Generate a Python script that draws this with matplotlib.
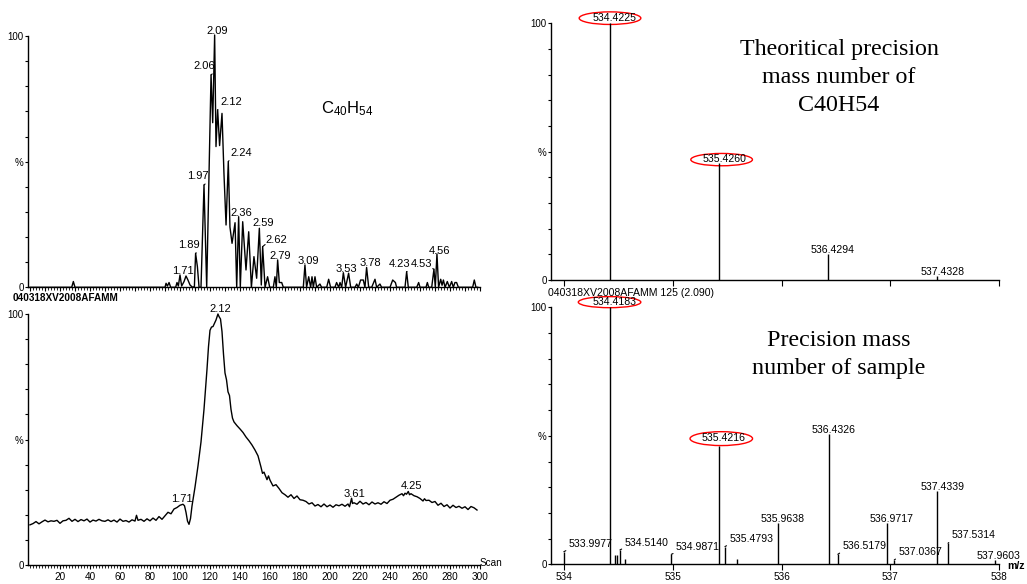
import matplotlib
matplotlib.use("Agg")
import matplotlib.pyplot as plt
from matplotlib.patches import Ellipse

plt.rcParams['font.family'] = ['Liberation Sans', 'DejaVu Sans']
plt.rcParams['mathtext.fontset'] = 'custom'
plt.rcParams['mathtext.rm'] = 'Liberation Sans'
plt.rcParams['mathtext.it'] = 'Liberation Sans'

# ---------------- data ----------------
# top-left: extracted ion chromatogram (scan, %)
tic_scan = [0, 27.8, 28.9, 30, 90, 90.7, 91.6, 92.7, 93.8, 97.1, 98, 98.9, 100, 101.1, 102.7, 104,
            105.3, 106.7, 108.4, 109.6, 110.4, 111.6, 112.7, 114, 116, 117.8, 120.7, 121.8, 123.1,
            124, 125.1, 126.4, 128, 129.3, 130.7, 132.2, 133.3, 134.7, 136.7, 137.8, 139.1, 140.2,
            141.8, 144, 145.8, 147.6, 149.3, 151.1, 152.9, 154.2, 155.1, 156.7, 158.4, 159.8, 162.2,
            163.3, 164.2, 165.1, 166.2, 167.8, 168.9, 182.2, 183.3, 184.4, 185.8, 187.1, 188, 188.9,
            190, 191.1, 193.3, 194.4, 197.8, 199.1, 200.4, 203.3, 204.4, 205.8, 206.7, 207.8, 208.9,
            210.4, 212.4, 213.8, 216.7, 217.8, 218.9, 220.4, 222.2, 223.3, 224.4, 225.8, 227.8, 230,
            231.1, 233.3, 234.4, 240, 241.8, 243.6, 244.4, 250, 251.1, 252.2, 257.8, 259.1, 260, 264,
            264.9, 265.8, 267.8, 269.3, 270.2, 271.3, 272.4, 273.8, 274.7, 275.6, 276.7, 278.2, 279.6,
            281.1, 282.2, 283.3, 284.4, 285.6, 295.1, 296.2, 297.3, 298.5]
tic_val = [0, 0, 2.3, 0, 0, 1.6, 0.5, 1.9, 0, 0, 1.9, 0.5, 4.9, 0.5, 2.3, 4.5,
           2.9, 0.9, 0, 0.3, 13.5, 8.2, 0, 0, 40.7, 0, 84.5, 65.5, 100.4,
           56, 70.6, 56.4, 69.2, 45.4, 24.8, 50, 24, 17.5, 25.7, 0, 28.1, 0,
           26.1, 6.9, 22.1, 0, 12.2, 3.6, 23.5, 0.9, 16.2, 0, 4.2, 0, 0,
           4.2, 0, 10.9, 1.9, 1.9, 0, 0, 8.9, 0, 4.2, 0, 4.2, 0,
           4.2, 0, 1.3, 0, 0, 3.2, 0, 0, 1.9, 0, 1.9, 0, 5.8,
           0, 5.6, 0, 0, 1.3, 0, 2.9, 2.9, 0, 7.9, 0, 0, 3.2,
           0, 1.3, 0, 0, 2.9, 1.9, 0, 0, 6.2, 0, 0, 1.9, 0, 0,
           1.9, 0, 0, 7.2, 0, 13.3, 0, 3.2, 0.8, 2.9, 0, 2.3, 0,
           2.3, 0, 1.9, 1.9, 0, 0, 2.9, 0, 0]
tic_labels = ["1.71", "1.89", "1.97", "2.06", "2.09", "2.12", "2.24", "2.36", "2.59", "2.62",
              "2.79", "3.09", "3.53", "3.78", "4.23", "4.53", "4.56"]
tic_label_scan = [100, 110.4, 116, 120.7, 123.1, 125.1, 132.2, 139.1, 152.9, 155.1,
                  165.1, 183.3, 208.9, 224.4, 251.1, 269.3, 271.3]
tic_label_val = [4.9, 13.5, 40.7, 84.5, 100.4, 70.6, 50, 28.1, 23.5, 16.2,
                 10.9, 8.9, 5.8, 7.9, 6.2, 7.2, 13.3]

# bottom-left: total ion chromatogram (scan, %)
bpi_scan = [0, 2, 4, 6, 8, 10, 12, 14, 16, 18, 20, 22, 24, 26, 28, 30, 32, 34, 36, 38, 40, 42, 44,
            46, 48, 50, 52, 54, 56, 58, 60, 62, 64, 66, 68, 70, 71, 72, 74, 76, 78, 80, 82, 84, 86,
            88, 90, 92, 94, 96, 98, 100, 102, 103, 104, 105, 106, 107, 108, 110, 112, 114, 116, 118,
            119, 120, 121, 122, 124, 125.3, 126, 127, 128, 129, 130, 131, 132, 133, 134, 135, 136,
            138, 140, 142, 144, 146, 148, 150, 152, 154, 155, 156, 158, 159, 160, 162, 164, 166, 168,
            170, 172, 174, 176, 178, 180, 182, 184, 186, 188, 190, 192, 194, 196, 198, 200, 202, 204,
            206, 208, 210, 212, 213, 214.4, 215, 216, 218, 220, 222, 224, 226, 228, 230, 232, 234,
            236, 238, 240, 242, 244, 246, 248, 249, 250, 251, 252.2, 253, 254, 256, 258, 260, 262,
            263, 264, 266, 268, 270, 272, 274, 276, 278, 280, 282, 284, 286, 288, 290, 292, 294, 296,
            298]
bpi_val = [16.0, 16.5, 17.3, 16.4, 17.2, 17.9, 17.2, 17.6, 17.4, 17.8, 16.6, 17.6, 17.8, 18.6, 17.4,
           18.2, 17.3, 18.1, 17.6, 18.3, 17.1, 17.9, 17.5, 18.2, 17.6, 17.4, 18.0, 17.3, 17.9, 17.1,
           18.3, 17.4, 17.7, 17.1, 18.0, 17.5, 19.8, 17.8, 18.2, 17.4, 18.4, 17.6, 18.7, 17.8, 19.3,
           18.2, 19.6, 21.0, 20.4, 22.3, 22.9, 23.8, 24.2, 23.6, 21.0, 17.5, 16.2, 18.5, 23.5, 31.0,
           39.5, 49.0, 62.0, 78.0, 87.0, 93.5, 94.8, 95.0, 97.6, 100, 99.0, 98.0, 93.0, 84.0, 76.5,
           73.8, 69.0, 67.5, 62.0, 58.5, 57.0, 55.5, 54.2, 52.8, 51.0, 49.5, 47.8, 45.8, 43.5, 39.0,
           36.5, 37.0, 34.0, 35.5, 33.8, 31.5, 32.0, 30.5, 28.8, 28.0, 27.0, 28.0, 26.5, 27.5, 26.0,
           25.8, 25.3, 24.3, 24.8, 23.5, 24.1, 23.2, 24.3, 23.2, 23.9, 23.0, 24.0, 23.6, 24.2, 23.4,
           24.3, 23.2, 26.6, 24.5, 24.8, 24.2, 25.4, 24.3, 24.9, 24.0, 25.1, 24.3, 24.8, 24.2, 25.2,
           24.5, 25.8, 26.2, 27.0, 27.8, 28.4, 27.6, 28.6, 28.2, 29.3, 28.0, 28.4, 27.6, 27.2, 26.5,
           25.5, 26.4, 25.7, 25.8, 24.9, 25.3, 23.8, 24.6, 23.3, 24.0, 22.7, 23.8, 22.9, 23.4, 22.6,
           23.2, 22.1, 23.3, 22.8, 21.9]
bpi_labels = ["1.71", "2.12", "3.61", "4.25"]
bpi_label_scan = [101.6, 126.7, 216, 254.4]
bpi_label_val = [26.3, 102, 28.2, 31.5]

# top-right: theoretical isotope pattern
theo_mz = [534.4225, 535.4260, 536.4294, 537.4328]
theo_int = [100, 45.5, 10.2, 1.6]
theo_labels = ["534.4225", "535.4260", "536.4294", "537.4328"]

# bottom-right: measured spectrum
meas_mz = [533.9977, 534.4183, 534.4700, 534.4900, 534.5140, 534.5600, 534.9871, 535.4216,
           535.4793, 535.5940, 535.9638, 536.4326, 536.5179, 536.9717, 537.0367, 537.4339,
           537.5314, 537.9603]
meas_int = [4.9, 100, 3.6, 3.6, 5.6, 1.9, 3.9, 46.2, 6.9, 1.9, 16.2, 50.7, 3.9, 16.2, 1.7, 28.5,
            8.2, 1.7]
meas_labels = ["533.9977", "534.4183", "", "", "534.5140", "", "534.9871", "535.4216",
               "535.4793", "", "535.9638", "536.4326", "536.5179", "536.9717", "537.0367",
               "537.4339", "537.5314", "537.9603"]

# ---------------- figure ----------------
W, H = 1027, 584
fig = plt.figure(figsize=(W / 100, H / 100), dpi=100)


def axes_px(left, right, top, bottom):
    return fig.add_axes([left / W, 1 - bottom / H, (right - left) / W, (bottom - top) / H])


def style_y(ax):
    ax.set_ylim(0, 100)
    ax.set_yticks(range(0, 101, 10))
    ax.set_yticklabels(['0', '', '', '', '', '%', '', '', '', '', '100'])
    ax.tick_params(axis='y', direction='out', length=2.5, width=0.8, pad=0.5, labelsize=7)
    for s in ['top', 'right']:
        ax.spines[s].set_visible(False)
    for s in ['left', 'bottom']:
        ax.spines[s].set_linewidth(1.0)
    ax.patch.set_alpha(0)


lw_trace = 1.0

# ---- top-left ----
ax1 = axes_px(28, 480, 36, 287.3)
ax1.plot(tic_scan, tic_val, color='black', lw=lw_trace, clip_on=False)
ax1.set_xlim(-1.33, 300)
style_y(ax1)
ax1.set_xticks(range(0, 301, 10))
ax1.set_xticks(range(0, 301, 2), minor=True)
ax1.tick_params(axis='x', which='major', length=3, width=0.8, labelbottom=False)
ax1.tick_params(axis='x', which='minor', length=2, width=0.6)

tl_text_pos = [(102.2, 6.6), (106.2, 16.8), (111.6, 44.2), (116.4, 88.0), (125.1, 101.8),
               (134, 73.8), (141.1, 53.5), (141.1, 29.6), (155.6, 25.4), (164, 19.0),
               (167.1, 12.4), (185.6, 10.4), (211.1, 7.1), (226.7, 9.8), (246.7, 9.4),
               (261.3, 9.4), (272.9, 14.4)]
tl_relpos = [None, (1, 0), (1, 0), (1, 0), None, (0, 0), (0, 0), None, None, (0, 0),
             None, None, None, None, (1, 0), (1, 0), None]
for lab, sx, sv, (tx, ty), rp in zip(tic_labels, tic_label_scan, tic_label_val, tl_text_pos, tl_relpos):
    if rp is None:
        ax1.text(tx, ty, lab, ha='center', va='center', fontsize=8, clip_on=False)
    else:
        ax1.annotate(lab, xy=(sx, sv), xytext=(tx, ty), ha='center', va='center', fontsize=8,
                     annotation_clip=False,
                     arrowprops=dict(arrowstyle='-', lw=0.8, color='black', relpos=rp,
                                     shrinkA=0, shrinkB=0))

fig.text(347 / W, 1 - 109 / H, r'C$_{40}$H$_{54}$', ha='center', va='center', fontsize=12)
fig.text(13 / W, 1 - 298 / H, '040318XV2008AFAMM', ha='left', va='center', fontsize=7.2,
         fontweight='bold')

# ---- bottom-left ----
ax2 = axes_px(28, 480, 314, 565)
ax2.plot(bpi_scan, bpi_val, color='black', lw=lw_trace, clip_on=False)
ax2.set_xlim(-1.33, 300)
style_y(ax2)
ax2.set_xticks(range(20, 301, 20))
ax2.set_xticks(range(0, 301, 2), minor=True)
ax2.tick_params(axis='x', which='major', length=3, width=0.8, labelsize=7.2, pad=2)
ax2.tick_params(axis='x', which='minor', length=2, width=0.6)
for lab, tx, ty in zip(bpi_labels, bpi_label_scan, bpi_label_val):
    ax2.text(tx, ty, lab, ha='center', va='center', fontsize=8, clip_on=False)
fig.text(480 / W, 1 - 563 / H, 'Scan', ha='left', va='center', fontsize=7.2)

# ---- right panels ----
XL = (533.877, 538.0)


def style_ms(ax, labels_on):
    ax.set_xlim(*XL)
    style_y(ax)
    ax.set_xticks([534, 535, 536, 537, 538])
    ax.tick_params(axis='x', length=4, width=0.8, labelsize=7.2, pad=1.5, labelbottom=labels_on)


ax3 = axes_px(550.7, 999, 23.3, 280)
ax3.vlines(theo_mz, 0, theo_int, color='black', lw=1.0)
style_ms(ax3, False)
theo_text = [(534.469, 102), (535.476, 47.1), (536.470, 11.7), (537.478, 3.0)]
for lab, (tx, ty) in zip(theo_labels, theo_text):
    ax3.text(tx, ty, lab, ha='center', va='center', fontsize=7.6, clip_on=False)
for cx, cy, hh in [(534.4225, 102.0, 4.9), (535.449, 46.9, 4.8)]:
    ax3.add_patch(Ellipse((cx, cy), 0.567, hh, fill=False, edgecolor='red', lw=1.0, clip_on=False))
fig.text(839 / W, 1 - 77.5 / H, 'Theoritical precision\nmass number of\nC40H54', ha='center',
         va='center', fontsize=17.3, family='Liberation Serif', linespacing=1.42)
fig.text(548 / W, 1 - 292.5 / H, '040318XV2008AFAMM 125 (2.090)', ha='left', va='center',
         fontsize=7.6)

ax4 = axes_px(550.7, 999, 307.3, 564.3)
ax4.vlines(meas_mz, 0, meas_int, color='black', lw=1.0)
style_ms(ax4, True)
meas_text = [(534.244, 7.8), (534.469, 102), None, None, (534.757, 8.4), None, (535.230, 6.6),
             (535.466, 49.0), (535.722, 9.7), None, (536.010, 17.6), (536.481, 52.3),
             (536.762, 7.0), (537.015, 17.6), (537.275, 4.7), (537.478, 30.0), (537.766, 11.4),
             (538.0, 3.2)]
meas_leader = [True, False, False, False, True, False, True, False, True, False, False, False,
               True, False, True, False, True, False]
for lab, mz, it, pos, ld in zip(meas_labels, meas_mz, meas_int, meas_text, meas_leader):
    if not lab:
        continue
    if ld:
        ax4.annotate(lab, xy=(mz, it), xytext=pos, ha='center', va='center', fontsize=7.6,
                     annotation_clip=False,
                     arrowprops=dict(arrowstyle='-', lw=0.8, color='black', relpos=(0, 0),
                                     shrinkA=0, shrinkB=0))
    else:
        ax4.text(pos[0], pos[1], lab, ha='center', va='center', fontsize=7.6, clip_on=False)
for cx, cy, hh in [(534.4183, 102.0, 4.3), (535.446, 48.9, 5.4)]:
    ax4.add_patch(Ellipse((cx, cy), 0.575, hh, fill=False, edgecolor='red', lw=1.0, clip_on=False))
fig.text(839 / W, 1 - 354.5 / H, 'Precision mass\nnumber of sample', ha='center', va='center',
         fontsize=17.3, family='Liberation Serif', linespacing=1.42)
fig.text(1016 / W, 1 - 566 / H, 'm/z', ha='center', va='center', fontsize=7.6, fontweight='bold')

fig.savefig('out.png', dpi=100)
